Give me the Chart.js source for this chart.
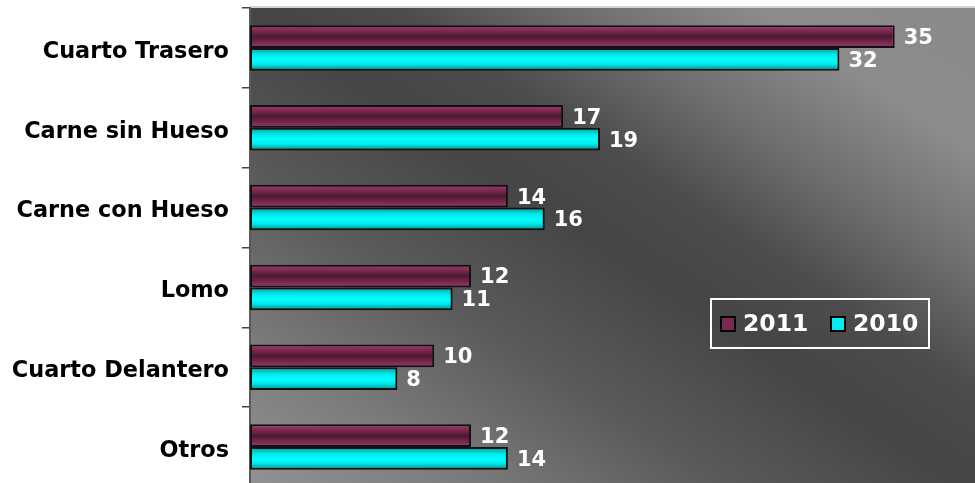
<!DOCTYPE html>
<html>
<head>
<meta charset="utf-8">
<script src="https://cdn.jsdelivr.net/npm/chart.js@4"></script>
<style>
  html, body { margin: 0; padding: 0; background: #fff; overflow: hidden; }
</style>
</head>
<body>
<canvas id="barChart" width="975" height="487"></canvas>
<script>
const categories = ['Cuarto Trasero', 'Carne sin Hueso', 'Carne con Hueso', 'Lomo', 'Cuarto Delantero', 'Otros'];
const values2011 = [35, 17, 14, 12, 10, 12];
const values2010 = [32, 19, 16, 11, 8, 14];
const seriesLabels = ['2011', '2010'];

const FONT = "'DejaVu Sans', Verdana, sans-serif";

const barStops = [
  [[0, '#a03c6e'], [0.18, '#8a2d5c'], [0.5, '#4a1832'], [0.82, '#842b57'], [1, '#9a386a']],
  [[0, '#009c9c'], [0.3, '#00e8e8'], [0.5, '#00ffff'], [0.7, '#00eeee'], [1, '#008a8a']]
];

// plot area gradient, bands parallel to the main diagonal
const backdrop = {
  id: 'backdrop',
  beforeDraw(chart) {
    const { ctx, chartArea: a } = chart;
    const w = a.right - a.left, h = a.bottom - a.top;
    const len = Math.hypot(w, h);
    const nx = h / len, ny = -w / len;
    const half = w * h / len;
    const cx = a.left + w / 2, cy = a.top + h / 2;
    const g = ctx.createLinearGradient(cx - nx * half, cy - ny * half, cx + nx * half, cy + ny * half);
    g.addColorStop(0, '#929292');
    g.addColorStop(0.15, '#7c7c7c');
    g.addColorStop(0.33, '#5a5a5a');
    g.addColorStop(0.5, '#454545');
    g.addColorStop(0.6, '#4c4c4c');
    g.addColorStop(0.72, '#6e6e6e');
    g.addColorStop(0.85, '#8c8c8c');
    g.addColorStop(1, '#8a8a8a');
    ctx.save();
    ctx.fillStyle = g;
    ctx.fillRect(a.left, a.top, w, h);
    ctx.fillStyle = '#d4d4d4';
    ctx.fillRect(a.left, a.top - 2, w, 2);
    ctx.restore();
  }
};

// pipe-like shading on each bar
const barShade = {
  id: 'barShade',
  afterDatasetsUpdate(chart) {
    const ctx = chart.ctx;
    chart.data.datasets.forEach((ds, di) => {
      chart.getDatasetMeta(di).data.forEach(el => {
        const { y, height } = el.getProps(['y', 'height'], true);
        const g = ctx.createLinearGradient(0, y - height / 2, 0, y + height / 2);
        barStops[di].forEach(s => g.addColorStop(s[0], s[1]));
        el.options = Object.assign({}, el.options, { backgroundColor: g });
      });
    });
  }
};

const valueLabels = {
  id: 'valueLabels',
  afterDatasetsDraw(chart) {
    const ctx = chart.ctx;
    ctx.save();
    ctx.font = 'bold 21px ' + FONT;
    ctx.fillStyle = '#ffffff';
    ctx.textBaseline = 'middle';
    ctx.textAlign = 'left';
    chart.data.datasets.forEach((ds, di) => {
      chart.getDatasetMeta(di).data.forEach((el, i) => {
        ctx.fillText(String(ds.data[i]), el.x + 9, el.y + 2);
      });
    });
    ctx.restore();
  }
};

const boxLegend = {
  id: 'boxLegend',
  afterDraw(chart) {
    const ctx = chart.ctx;
    const left = 711, top = 299, w = 218, h = 49;
    ctx.save();
    ctx.strokeStyle = '#ffffff';
    ctx.lineWidth = 2;
    ctx.strokeRect(left, top, w, h);
    ctx.font = 'bold 23.5px ' + FONT;
    ctx.textBaseline = 'middle';
    const fills = ['#7a2852', '#00eeee'];
    const xs = [721, 831];
    seriesLabels.forEach((lab, i) => {
      ctx.fillStyle = fills[i];
      ctx.fillRect(xs[i], 317, 14, 14);
      ctx.strokeStyle = '#000';
      ctx.lineWidth = 2;
      ctx.strokeRect(xs[i], 317, 14, 14);
      ctx.fillStyle = '#ffffff';
      ctx.fillText(lab, xs[i] + 22, 325);
    });
    ctx.restore();
  }
};

const ctx = document.getElementById('barChart').getContext('2d');
new Chart(ctx, {
  type: 'bar',
  data: {
    labels: categories,
    datasets: [
      {
        label: seriesLabels[0],
        data: values2011,
        backgroundColor: '#6e2148',
        borderColor: '#111111',
        borderWidth: 2,
        borderSkipped: false
      },
      {
        label: seriesLabels[1],
        data: values2010,
        backgroundColor: '#00e6e6',
        borderColor: '#111111',
        borderWidth: 2,
        borderSkipped: false
      }
    ]
  },
  options: {
    indexAxis: 'y',
    responsive: false,
    maintainAspectRatio: false,
    animation: false,
    categoryPercentage: 0.57,
    barPercentage: 1,
    layout: { padding: { top: 8, right: 0, bottom: 0, left: 0 } },
    scales: {
      x: {
        display: false,
        min: 0,
        max: 39.36
      },
      y: {
        afterFit(scale) {
          scale.width = 250;
          scale.paddingTop = 0;
          scale.paddingBottom = 0;
        },
        grid: {
          display: true,
          drawOnChartArea: false,
          offset: true,
          tickLength: 8,
          color: '#444444',
          lineWidth: 1.5
        },
        border: { display: true, color: '#5a5a5a', width: 2 },
        ticks: {
          color: '#000000',
          padding: 13,
          labelOffset: 4,
          font: { family: FONT, size: 22.4, weight: 'bold' }
        }
      }
    },
    plugins: {
      legend: { display: false },
      tooltip: { enabled: false }
    }
  },
  plugins: [backdrop, barShade, valueLabels, boxLegend]
});
</script>
</body>
</html>
